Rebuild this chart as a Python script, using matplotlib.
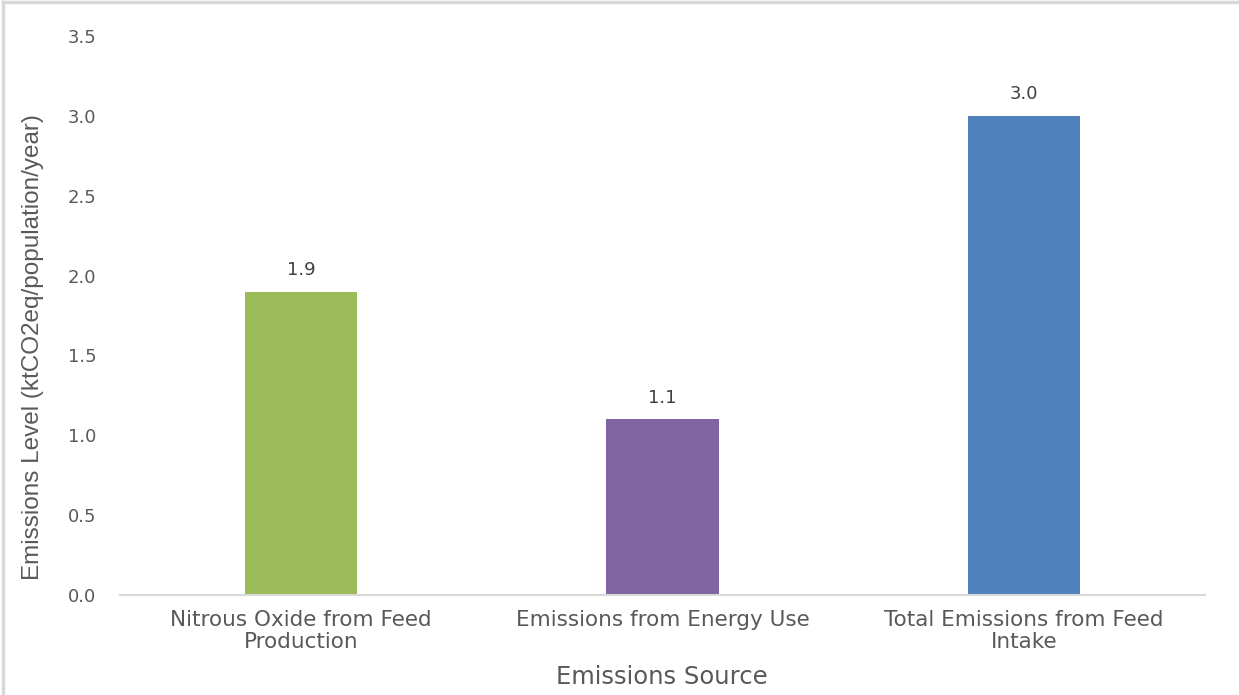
import matplotlib
matplotlib.use("Agg")
import matplotlib.pyplot as plt
from matplotlib.lines import Line2D

categories = ["Nitrous Oxide from Feed\nProduction", "Emissions from Energy Use", "Total Emissions from Feed\nIntake"]
values = [1.9, 1.1, 3.0]
colors = ["#9BBB59", "#8064A2", "#4F81BD"]
yticks = [0.0, 0.5, 1.0, 1.5, 2.0, 2.5, 3.0, 3.5]

W, H = 1239, 695
fig = plt.figure(figsize=(W / 100, H / 100), dpi=100)
ax = fig.add_axes([120 / W, 1 - 595 / H, 1085 / W, (595 - 36) / H])

x = list(range(len(values)))
bars = ax.bar(x, values, width=0.31, color=colors, zorder=2)
ax.set_xlim(-0.5, 2.5)
ax.set_ylim(0, 3.5)
ax.set_yticks(yticks)
ax.set_yticklabels([f"{v:.1f}" for v in yticks], fontsize=13, color="#595959", family="DejaVu Sans")
ax.set_xticks(x)
ax.set_xticklabels(categories, fontsize=15.5, color="#595959", family="DejaVu Sans", linespacing=1.13)
ax.tick_params(axis="both", length=0)
ax.tick_params(axis="x", pad=11)
ax.tick_params(axis="y", pad=17)
for s in ["top", "right", "left"]:
    ax.spines[s].set_visible(False)
ax.spines["bottom"].set_color("#D9D9D9")
ax.spines["bottom"].set_linewidth(1.5)

for xi, v in zip(x, values):
    ax.annotate(f"{v:.1f}", (xi, v), xytext=(0, 9), textcoords="offset points",
                ha="center", va="bottom", fontsize=13, color="#404040", family="DejaVu Sans")

fig.text(662 / W, 1 - 677 / H, "Emissions Source", ha="center", va="center",
         fontsize=17.5, color="#595959", family="DejaVu Sans")
fig.text(33 / W, 1 - 347 / H, "Emissions Level (ktCO2eq/population/year)", ha="center", va="center",
         rotation=90, fontsize=17.5, color="#595959", family="Liberation Sans")

fig.add_artist(Line2D([3 / W, 3 / W], [0, 1 - 2 / H], color="#D9D9D9", lw=2.5, transform=fig.transFigure))
fig.add_artist(Line2D([3 / W, 1], [1 - 2 / H, 1 - 2 / H], color="#D9D9D9", lw=2.5, transform=fig.transFigure))

fig.savefig("out.png", dpi=100)
